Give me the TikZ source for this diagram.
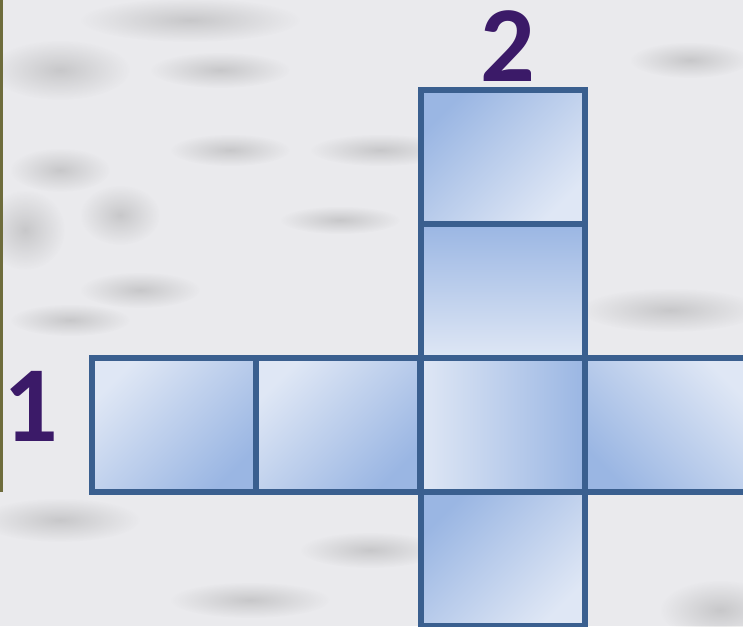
\documentclass[tikz,border=0pt]{standalone}
\usepackage{fontspec}
\setmainfont{Carlito}
\usetikzlibrary{positioning,fadings}

\definecolor{faceline}{HTML}{3A5F8F}
\definecolor{facedark}{HTML}{9AB6E3}
\definecolor{facelight}{HTML}{DFE7F5}
\definecolor{digitcol}{HTML}{3B1A68}
\definecolor{paper}{HTML}{EAEAED}
\definecolor{strip}{HTML}{6E6C3C}
\tikzfading[name=softblob, inner color=transparent!0, outer color=transparent!100]

\begin{document}
\begin{tikzpicture}[x=1pt, y=-1pt,
  face/.style={draw=faceline, line width=6pt, minimum width=164pt, minimum height=134pt, inner sep=0pt, outer sep=0pt},
  digit/.style={text=digitcol, font=\fontsize{108}{108}\selectfont\bfseries, inner sep=0pt},
  smudge/.style={fill=black!50, opacity=.32, path fading=softblob}]
  \useasboundingbox (0,0) rectangle (743,626);
  \clip (0,0) rectangle (743,626);
  % marble background
  \fill[paper] (0,0) rectangle (743,626);
  \fill[smudge] (190,20) ellipse (110 and 22);
  \fill[smudge] (60,70) ellipse (70 and 30);
  \fill[smudge] (220,70) ellipse (70 and 18);
  \fill[smudge] (230,150) ellipse (60 and 16);
  \fill[smudge] (60,170) ellipse (50 and 22);
  \fill[smudge] (380,150) ellipse (70 and 16);
  \fill[smudge] (25,230) ellipse (40 and 40);
  \fill[smudge] (120,215) ellipse (40 and 30);
  \fill[smudge] (140,290) ellipse (60 and 18);
  \fill[smudge] (70,320) ellipse (60 and 16);
  \fill[smudge] (670,310) ellipse (90 and 22);
  \fill[smudge] (340,220) ellipse (60 and 14);
  \fill[smudge] (60,520) ellipse (80 and 22);
  \fill[smudge] (370,550) ellipse (70 and 18);
  \fill[smudge] (250,600) ellipse (80 and 18);
  \fill[smudge] (720,610) ellipse (60 and 30);
  \fill[smudge] (690,60) ellipse (60 and 18);
  \fill[strip] (0,0) rectangle (3,492);

  % cube net
  \node[face, top color=facelight, bottom color=facedark, shading angle=45] (left) at (174,425) {};
  \node[face, top color=facelight, bottom color=facedark, shading angle=45] (back) at (338,425) {};
  \node[face, left color=facelight, right color=facedark] (front) at (503,425) {};
  \node[face, top color=facelight, bottom color=facedark, shading angle=-45] (right) at (667,425) {};
  \node[face, top color=facedark, bottom color=facelight] (upper) at (503,291) {};
  \node[face, top color=facedark, bottom color=facelight, shading angle=45] (top) at (503,157) {};
  \node[face, top color=facedark, bottom color=facelight, shading angle=45] (bottom) at (503,559) {};

  % labels
  \node[digit] (one) at (31,406) {1};
  \node[digit] (two) at (508,46) {2};
\end{tikzpicture}
\end{document}
